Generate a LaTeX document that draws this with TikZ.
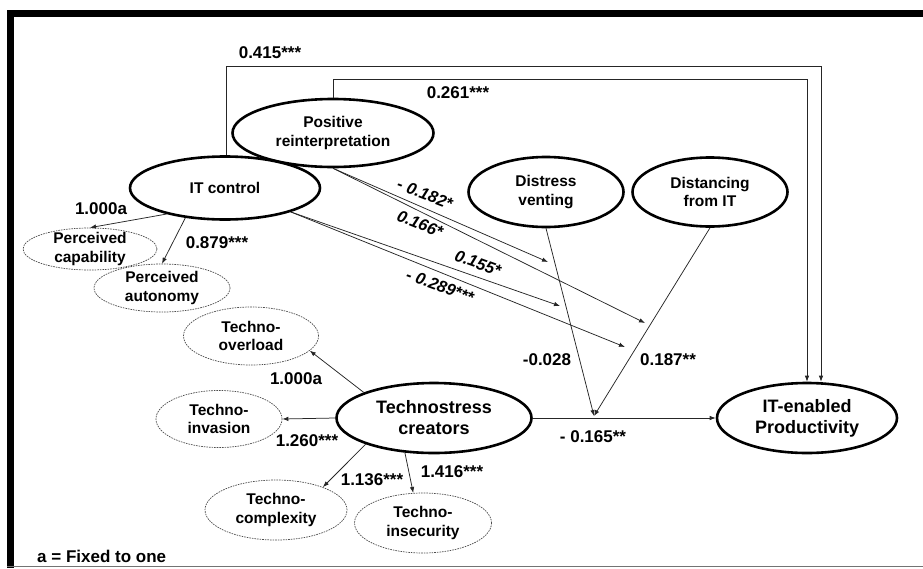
\documentclass[tikz,border=0pt]{standalone}
\usepackage{fontspec}
\setmainfont{Liberation Sans}
\usetikzlibrary{shapes.geometric,arrows.meta}
\begin{document}
\begin{tikzpicture}[x=1pt,y=-1pt,
  latent/.style={ellipse,draw,line width=2.6pt,inner sep=-8pt,align=center},
  ind/.style={ellipse,draw=black!70,line width=0.7pt,dash pattern=on 1.6pt off 1pt,inner sep=-8pt,align=center},
  ltxt/.style={font=\bfseries\fontsize{15.5}{18.5}\selectfont},
  btxt/.style={font=\bfseries\fontsize{18}{21}\selectfont},
  coef/.style={font=\bfseries\fontsize{17}{20}\selectfont,inner sep=0pt},
  icoef/.style={font=\bfseries\itshape\fontsize{16.5}{20}\selectfont,inner sep=0pt},
  arr/.style={draw=black!85,line width=0.75pt,-{Latex[length=6pt,width=4.5pt]}},
]
\useasboundingbox (0,0) rectangle (923,568);
% frame
\draw[line width=7pt] (7,13.5) -- (923,13.5);
\draw[line width=7.5pt] (10.5,10) -- (10.5,568);
\draw[black!55,line width=0.8pt] (7,566.5) -- (923,566.5);

% latent constructs
\node[latent,ltxt,minimum width=201pt,minimum height=68pt] (pr) at (333,133) {Positive\\reinterpretation};
\node[latent,ltxt,minimum width=190pt,minimum height=63pt] (itc) at (225,188) {IT control};
\node[latent,ltxt,minimum width=155pt,minimum height=70pt] (dv) at (546,192) {Distress\\venting};
\node[latent,ltxt,minimum width=155pt,minimum height=69pt] (dist) at (710,192) {Distancing\\from IT};
\node[latent,btxt,minimum width=180pt,minimum height=70pt] (prod) at (807,418) {IT-enabled\\Productivity};
\node[latent,btxt,minimum width=195pt,minimum height=70pt] (tc) at (434,418) {Technostress\\creators};

% indicators
\node[ind,ltxt,minimum width=134pt,minimum height=42pt] (pcap) at (90,249) {Perceived\\capability};
\node[ind,ltxt,minimum width=136pt,minimum height=48pt] (paut) at (162,288) {Perceived\\autonomy};
\node[ind,ltxt,minimum width=135pt,minimum height=58pt] (tov) at (251,336) {Techno-\\overload};
\node[ind,ltxt,minimum width=126pt,minimum height=57pt] (tinv) at (219,419) {Techno-\\invasion};
\node[ind,ltxt,minimum width=142pt,minimum height=60pt] (tcomp) at (276,510) {Techno-\\complexity};
\node[ind,ltxt,minimum width=137pt,minimum height=60pt] (tins) at (423,523) {Techno-\\insecurity};

% measurement paths
\draw[arr] (itc.204) -- (pcap.north);
\draw[arr] (itc.217) -- (paut.north);
\draw[arr] (tc.160) -- (tov.346);
\draw[arr] (tc.west) -- (tinv.east);
\draw[arr] (tc.201) -- (tcomp.26);
\draw[arr] (tc.230) -- (tins.108);

% direct paths to productivity
\coordinate (t1) at (821,66);
\coordinate (t2) at (807,79);
\draw[arr] (itc.north -| 226,0) |- (t1) -- (t1 |- prod.north);
\draw[arr] (pr.north) |- (t2) -- (prod.north);

% main effect and moderators
\coordinate (m) at (594,416);
\draw[arr] (tc.east) -- (prod.west);
\draw[arr] (dv.south) -- (m);
\draw[arr] (dist.south) -- (m);

% interaction paths
\coordinate (i1) at (548,262);
\coordinate (i2) at (645,323);
\coordinate (i3) at (560,306);
\coordinate (i4) at (625,347);
\draw[arr] (pr.south) -- (i1);
\draw[arr] (pr.south) -- (i2);
\draw[arr] (itc.-20) -- (i3);
\draw[arr] (itc.-20) -- (i4);

% coefficients
\node[coef] (c415) at (270,53) {0.415***};
\node[coef] (c261) at (458,93) {0.261***};
\node[coef] (cpc) at (101,209) {1.000a};
\node[coef] (cpa) at (217,243) {0.879***};
\node[icoef,rotate=-21] (c182) at (425,194) {- 0.182*};
\node[icoef,rotate=-22] (c166) at (420,224) {0.166*};
\node[icoef,rotate=-20] (c155) at (478,263) {0.155*};
\node[icoef,rotate=-20] (c289) at (440,286) {- 0.289***};
\node[coef] (c028) at (547,360) {-0.028};
\node[coef] (c187) at (668,360) {0.187**};
\node[coef] (c165) at (593,437) {- 0.165**};
\node[coef] (cto) at (296,379) {1.000a};
\node[coef] (cti) at (307,441) {1.260***};
\node[coef] (ctc) at (372,480) {1.136***};
\node[coef] (ctn) at (452,472) {1.416***};
\node[coef,anchor=west] (note) at (37,556) {a = Fixed to one};
\end{tikzpicture}
\end{document}
